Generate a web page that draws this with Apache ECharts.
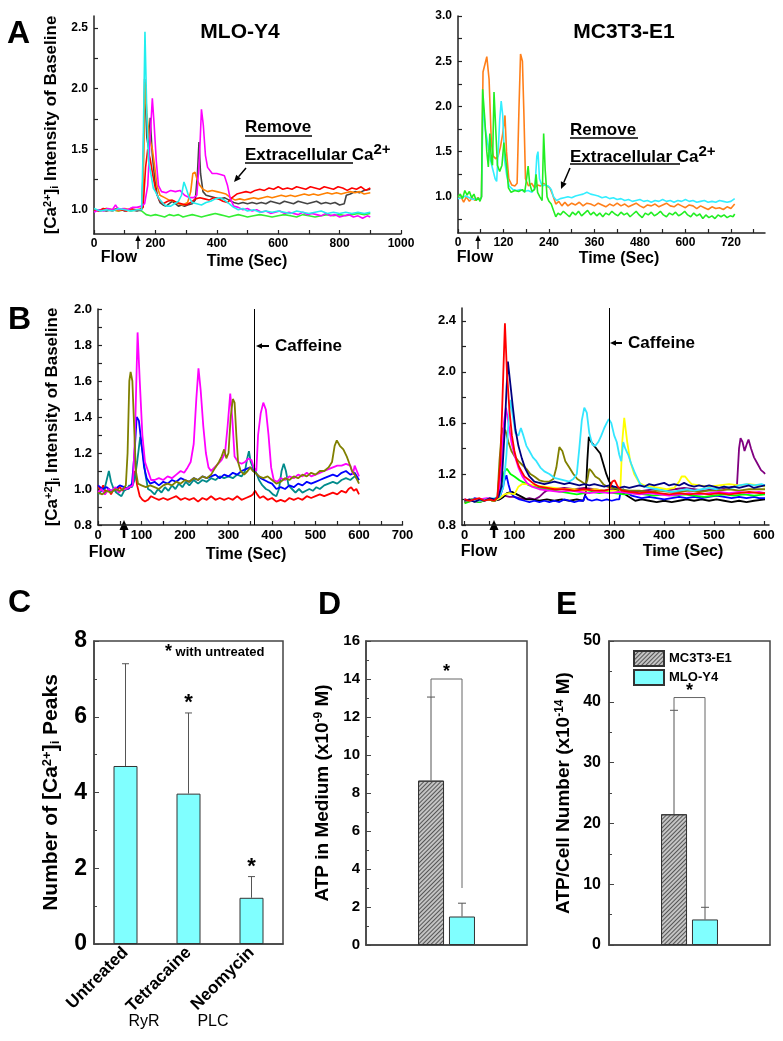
<!DOCTYPE html>
<html>
<head>
<meta charset="utf-8">
<title>Flow-induced Ca2+ responses and ATP release</title>
<script src="https://cdn.jsdelivr.net/npm/echarts@6.0.0/dist/echarts.min.js"></script>
<style>
  html, body { margin: 0; padding: 0; background: #fff; }
  #chart { width: 783px; height: 1041px; }
</style>
</head>
<body>
<div id="chart"></div>
<script>
// ---------- panel A, MLO-Y4 traces [time (s), ratio] ----------
const a1Red = [[0,1.0],[15,0.99],[30,1.01],[45,1.0],[60,0.99],[75,1.01],[90,1.0],[105,0.99],[120,1.01],[135,1.0],[150,1.0],[160,1.02],[168,1.35],[175,1.5],[183,1.42],[192,1.28],[202,1.15],[213,1.08],[225,1.05],[240,1.07],[255,1.08],[270,1.06],[285,1.05],[300,1.04],[315,1.06],[330,1.09],[345,1.1],[360,1.09],[375,1.08],[390,1.1],[405,1.09],[420,1.07],[435,1.06],[450,1.1],[465,1.13],[480,1.14],[495,1.15],[510,1.14],[525,1.16],[540,1.17],[555,1.16],[570,1.18],[585,1.17],[600,1.19],[615,1.17],[630,1.18],[645,1.17],[660,1.19],[675,1.18],[690,1.17],[705,1.19],[720,1.18],[735,1.17],[750,1.19],[765,1.18],[780,1.17],[795,1.19],[810,1.18],[825,1.16],[840,1.18],[855,1.17],[870,1.19],[885,1.16],[900,1.18]];
const a1Orange = [[0,1.0],[20,0.99],[40,1.01],[60,1.0],[80,0.99],[100,1.01],[120,1.0],[140,1.0],[155,1.01],[160,1.2],[166,2.05],[172,1.8],[180,1.6],[190,1.5],[198,1.35],[205,1.2],[215,1.12],[230,1.1],[245,1.08],[260,1.07],[275,1.05],[290,1.04],[305,1.06],[315,1.15],[322,1.3],[329,1.31],[336,1.25],[345,1.2],[355,1.17],[370,1.15],[385,1.16],[400,1.15],[415,1.14],[430,1.13],[445,1.1],[460,1.08],[475,1.09],[490,1.08],[505,1.09],[520,1.1],[535,1.09],[550,1.1],[565,1.11],[580,1.1],[595,1.11],[610,1.12],[625,1.11],[640,1.12],[655,1.11],[670,1.12],[685,1.13],[700,1.12],[715,1.13],[730,1.12],[745,1.13],[760,1.14],[775,1.13],[790,1.14],[805,1.13],[820,1.14],[835,1.15],[850,1.14],[865,1.15],[880,1.13],[900,1.14]];
const a1Gray = [[0,1.0],[20,1.0],[40,0.99],[60,1.0],[80,1.01],[100,0.99],[120,1.0],[140,0.99],[155,1.0],[160,1.3],[165,2.08],[172,1.6],[178,1.5],[183,1.76],[190,1.45],[198,1.25],[206,1.12],[215,1.06],[225,1.04],[235,1.03],[245,1.05],[255,1.07],[265,1.05],[275,1.03],[285,1.04],[295,1.03],[305,1.04],[320,1.05],[330,1.08],[337,1.3],[342,1.56],[347,1.3],[355,1.15],[365,1.12],[380,1.11],[395,1.1],[410,1.09],[425,1.1],[440,1.08],[455,1.06],[470,1.05],[485,1.06],[500,1.05],[515,1.06],[530,1.05],[545,1.06],[560,1.05],[575,1.07],[590,1.06],[605,1.05],[620,1.07],[635,1.06],[650,1.05],[665,1.07],[680,1.06],[695,1.05],[710,1.06],[725,1.07],[740,1.05],[755,1.06],[770,1.05],[785,1.06],[800,1.04],[815,1.05],[822,1.12],[835,1.13],[850,1.15],[865,1.14],[880,1.16],[900,1.17]];
const a1Magenta = [[0,0.98],[15,1.0],[30,0.99],[45,1.01],[60,1.0],[70,1.04],[80,1.0],[95,1.01],[110,1.0],[125,1.02],[140,1.02],[155,1.03],[165,1.05],[175,1.2],[183,1.6],[190,1.92],[196,1.7],[203,1.4],[210,1.2],[220,1.15],[235,1.14],[250,1.16],[265,1.15],[280,1.16],[295,1.12],[310,1.1],[325,1.1],[335,1.12],[343,1.4],[350,1.83],[356,1.7],[363,1.45],[370,1.35],[385,1.3],[400,1.3],[415,1.29],[425,1.28],[435,1.2],[443,1.1],[455,1.03],[470,1.02],[485,1.0],[500,1.01],[515,0.99],[530,1.0],[545,0.98],[560,0.99],[575,0.97],[590,0.98],[605,0.99],[620,0.97],[635,0.98],[650,0.97],[665,0.96],[680,0.98],[695,0.96],[710,0.97],[725,0.96],[740,0.95],[755,0.97],[770,0.95],[785,0.96],[800,0.94],[815,0.95],[830,0.96],[845,0.94],[860,0.95],[875,0.93],[890,0.95],[900,0.94]];
const a1Cyan = [[0,1.01],[20,0.99],[40,1.0],[60,0.99],[80,1.01],[100,1.0],[120,0.99],[140,1.0],[155,1.0],[160,1.5],[166,2.47],[172,1.8],[178,1.4],[185,1.3],[193,1.18],[200,1.15],[210,1.1],[222,1.06],[235,1.03],[250,1.03],[262,1.05],[275,1.07],[285,1.12],[293,1.23],[300,1.18],[310,1.1],[320,1.06],[335,1.05],[350,1.04],[365,1.06],[380,1.07],[395,1.09],[410,1.1],[425,1.08],[440,1.05],[455,1.02],[470,1.0],[485,1.01],[500,0.99],[520,1.0],[540,0.98],[560,0.99],[580,0.98],[600,0.99],[620,0.98],[640,0.97],[660,0.99],[680,0.98],[700,0.97],[720,0.98],[740,0.99],[760,0.97],[780,0.98],[800,0.97],[820,0.98],[840,0.97],[860,0.98],[880,0.97],[900,0.98]];
const a1Green = [[0,1.0],[20,0.99],[40,1.01],[60,1.0],[80,0.99],[100,1.0],[120,0.99],[140,1.0],[155,0.99],[170,0.96],[185,0.95],[200,0.96],[215,0.95],[230,0.94],[245,0.96],[260,0.95],[275,0.96],[290,0.94],[305,0.95],[320,0.96],[335,0.95],[350,0.94],[365,0.95],[380,0.96],[395,0.97],[410,0.96],[425,0.95],[440,0.94],[455,0.95],[470,0.96],[485,0.95],[500,0.94],[520,0.95],[540,0.96],[560,0.95],[580,0.94],[600,0.95],[620,0.96],[640,0.95],[660,0.94],[680,0.96],[700,0.95],[720,0.94],[740,0.95],[760,0.96],[780,0.95],[800,0.96],[820,0.95],[840,0.96],[860,0.97],[880,0.96],[900,0.97]];

// ---------- panel A, MC3T3-E1 traces ----------
const a2Orange = [[0,0.98],[8,1.0],[15,0.94],[22,1.0],[30,0.95],[38,0.99],[45,0.96],[52,0.99],[58,0.97],[62,1.0],[66,2.38],[70,2.4],[76,2.55],[82,2.3],[88,1.6],[93,1.45],[100,1.42],[106,1.45],[112,1.55],[118,1.7],[124,1.9],[128,1.5],[134,1.2],[142,1.13],[150,1.12],[156,1.15],[161,2.0],[165,2.58],[170,2.5],[174,1.9],[178,1.2],[186,1.12],[194,1.15],[202,1.1],[210,1.13],[218,1.12],[226,1.15],[234,1.12],[242,1.1],[250,1.02],[258,0.92],[266,0.95],[274,0.9],[282,0.94],[290,0.9],[300,0.93],[310,0.91],[320,0.94],[330,0.9],[340,0.93],[350,0.92],[360,0.9],[370,0.93],[380,0.91],[390,0.89],[400,0.92],[410,0.9],[420,0.93],[430,0.9],[440,0.92],[450,0.89],[460,0.91],[470,0.93],[480,0.9],[490,0.88],[500,0.91],[510,0.9],[520,0.92],[530,0.89],[540,0.91],[550,0.93],[560,0.9],[570,0.89],[580,0.92],[590,0.9],[600,0.88],[610,0.91],[620,0.9],[630,0.87],[640,0.9],[650,0.88],[660,0.86],[670,0.89],[680,0.87],[690,0.88],[700,0.86],[710,0.89],[720,0.87],[730,0.92]];
const a2Cyan = [[0,0.98],[10,0.99],[20,1.01],[30,0.99],[40,0.97],[50,0.98],[58,0.97],[62,1.0],[66,2.02],[72,1.75],[80,1.55],[86,1.4],[92,1.3],[98,1.2],[102,1.17],[106,1.5],[110,1.85],[114,2.06],[118,1.9],[123,1.4],[128,1.25],[135,1.12],[145,1.08],[155,1.07],[165,1.08],[175,1.06],[185,1.07],[195,1.05],[203,1.1],[208,1.45],[211,1.5],[215,1.2],[222,1.12],[230,1.13],[238,1.12],[246,1.08],[252,1.0],[260,0.96],[270,0.98],[280,0.99],[290,1.0],[300,0.99],[310,1.01],[320,1.02],[330,1.03],[340,1.05],[350,1.03],[360,1.02],[370,1.01],[380,0.99],[390,1.0],[400,0.98],[410,0.99],[420,0.97],[430,0.98],[440,0.96],[450,0.97],[460,0.95],[470,0.96],[480,0.97],[490,0.95],[500,0.96],[510,0.94],[520,0.96],[530,0.95],[540,0.97],[550,0.95],[560,0.96],[570,0.94],[580,0.96],[590,0.95],[600,0.97],[610,0.95],[620,0.96],[630,0.94],[640,0.95],[650,0.96],[660,0.94],[670,0.95],[680,0.94],[690,0.96],[700,0.95],[710,0.94],[720,0.95],[730,0.98]];
const a2Green = [[0,1.0],[6,1.03],[12,0.98],[18,1.07],[24,1.02],[30,1.06],[36,0.99],[42,1.03],[48,0.96],[54,0.99],[58,0.95],[62,1.0],[65,2.19],[70,1.9],[76,1.5],[80,1.33],[84,1.7],[88,1.4],[91,1.35],[95,2.16],[99,1.8],[104,1.35],[110,1.28],[116,1.35],[121,1.6],[125,1.6],[129,1.3],[133,1.1],[140,1.05],[150,1.07],[160,1.06],[170,1.08],[176,1.05],[181,1.2],[185,1.34],[189,1.15],[195,1.06],[202,1.08],[206,1.25],[210,1.05],[216,1.0],[222,0.96],[226,1.7],[230,1.3],[235,1.0],[240,0.95],[246,0.92],[252,0.85],[258,0.78],[264,0.82],[270,0.8],[278,0.84],[286,0.81],[294,0.78],[302,0.83],[310,0.8],[318,0.84],[326,0.79],[334,0.82],[342,0.85],[350,0.8],[358,0.83],[366,0.79],[374,0.82],[382,0.78],[390,0.82],[398,0.8],[406,0.84],[414,0.81],[422,0.79],[430,0.83],[438,0.8],[446,0.82],[454,0.78],[462,0.81],[470,0.84],[478,0.8],[486,0.77],[494,0.82],[502,0.8],[510,0.83],[518,0.79],[526,0.81],[534,0.84],[542,0.8],[550,0.78],[558,0.82],[566,0.8],[574,0.83],[582,0.79],[590,0.81],[598,0.84],[606,0.8],[614,0.78],[622,0.82],[630,0.79],[638,0.81],[646,0.76],[654,0.8],[662,0.77],[670,0.79],[678,0.76],[686,0.8],[694,0.78],[702,0.8],[710,0.77],[718,0.79],[726,0.78],[730,0.81]];

// ---------- panel B, MLO-Y4 with caffeine ----------
const b1Magenta = [[0,0.98],[8,1.0],[16,0.97],[24,1.0],[32,0.99],[40,1.01],[48,0.98],[56,1.0],[64,1.0],[72,1.01],[80,1.02],[85,1.3],[91,1.87],[96,1.6],[102,1.3],[108,1.15],[115,1.1],[122,1.05],[130,1.05],[140,1.06],[150,1.05],[160,1.07],[170,1.06],[180,1.08],[190,1.1],[198,1.09],[206,1.12],[213,1.15],[220,1.25],[226,1.5],[231,1.67],[236,1.55],[242,1.35],[248,1.2],[254,1.12],[260,1.1],[268,1.12],[276,1.14],[284,1.16],[292,1.2],[298,1.35],[304,1.53],[309,1.38],[314,1.18],[322,1.15],[330,1.14],[338,1.15],[346,1.17],[353,1.16],[358,1.12],[364,1.1],[368,1.3],[374,1.42],[380,1.48],[386,1.44],[392,1.3],[398,1.12],[404,1.05],[412,1.04],[420,1.06],[430,1.05],[440,1.07],[450,1.06],[460,1.08],[470,1.07],[480,1.09],[490,1.07],[500,1.08],[510,1.09],[520,1.1],[530,1.11],[540,1.12],[550,1.13],[560,1.13],[570,1.14],[580,1.13],[586,1.08],[590,1.13],[595,1.1],[600,1.07]];
const b1Olive = [[0,0.98],[10,0.97],[20,0.99],[30,0.98],[40,1.0],[50,0.99],[58,1.0],[64,1.02],[68,1.2],[72,1.6],[75,1.65],[79,1.6],[83,1.35],[87,1.1],[92,1.03],[100,1.02],[110,1.01],[120,1.02],[130,1.01],[140,1.0],[150,1.02],[160,1.03],[170,1.02],[180,1.04],[190,1.03],[200,1.05],[210,1.04],[220,1.06],[230,1.05],[240,1.07],[250,1.06],[260,1.08],[270,1.12],[278,1.15],[284,1.18],[290,1.22],[295,1.17],[300,1.2],[305,1.4],[310,1.5],[314,1.48],[318,1.3],[322,1.15],[328,1.1],[336,1.08],[344,1.1],[350,1.12],[356,1.1],[362,1.09],[370,1.07],[380,1.06],[390,1.07],[400,1.05],[410,1.03],[420,1.04],[430,1.06],[440,1.05],[450,1.07],[460,1.06],[470,1.08],[480,1.07],[490,1.09],[500,1.08],[510,1.1],[520,1.1],[530,1.12],[538,1.15],[544,1.24],[549,1.27],[556,1.24],[564,1.22],[572,1.18],[578,1.14],[584,1.1],[590,1.08],[596,1.05],[600,1.03]];
const b1Blue = [[0,1.02],[10,1.0],[20,1.01],[30,0.99],[40,1.0],[50,1.02],[60,1.01],[70,1.0],[78,1.03],[84,1.2],[89,1.4],[94,1.38],[100,1.25],[106,1.12],[112,1.06],[120,1.03],[130,1.04],[140,1.02],[150,1.04],[160,1.03],[170,1.05],[180,1.04],[190,1.06],[200,1.05],[210,1.04],[220,1.06],[230,1.05],[240,1.07],[250,1.06],[260,1.07],[270,1.08],[280,1.06],[290,1.08],[300,1.07],[310,1.09],[320,1.08],[330,1.1],[340,1.11],[350,1.12],[358,1.1],[366,1.08],[374,1.06],[382,1.05],[390,1.04],[400,1.03],[410,1.0],[420,1.01],[430,1.0],[440,1.02],[450,1.01],[460,1.03],[470,1.02],[480,1.04],[490,1.03],[500,1.04],[510,1.05],[520,1.06],[530,1.07],[540,1.08],[550,1.07],[560,1.09],[570,1.1],[580,1.08],[590,1.09],[600,1.05]];
const b1Teal = [[0,0.97],[8,0.99],[15,1.0],[20,1.05],[25,1.1],[30,1.04],[36,1.0],[42,0.98],[48,0.97],[54,0.96],[60,0.99],[66,1.0],[72,1.02],[78,1.01],[84,1.05],[90,1.15],[97,1.29],[103,1.2],[109,1.08],[115,1.0],[122,0.99],[130,0.97],[138,1.0],[146,0.98],[154,1.01],[162,0.99],[170,1.02],[178,1.0],[186,1.03],[194,1.01],[202,1.04],[210,1.02],[220,1.05],[230,1.03],[240,1.05],[250,1.04],[260,1.06],[270,1.05],[280,1.07],[290,1.06],[300,1.07],[310,1.06],[320,1.08],[330,1.07],[338,1.1],[343,1.17],[347,1.21],[351,1.15],[356,1.12],[362,1.1],[370,1.05],[378,1.02],[386,1.0],[394,0.99],[402,0.97],[410,0.96],[416,1.0],[422,1.1],[427,1.14],[432,1.1],[438,1.02],[446,1.0],[454,0.98],[462,1.0],[470,0.98],[478,0.99],[486,1.0],[494,0.99],[502,1.01],[510,1.0],[520,1.02],[530,1.03],[540,1.04],[550,1.03],[560,1.05],[570,1.06],[580,1.05],[590,1.07],[600,1.05]];
const b1Red = [[0,1.02],[6,0.99],[12,1.02],[18,0.98],[24,1.0],[30,0.97],[36,1.0],[42,0.99],[50,1.01],[58,0.99],[66,1.0],[74,1.01],[80,1.03],[85,1.1],[90,1.02],[96,0.96],[102,0.94],[108,0.93],[115,0.94],[122,0.96],[130,0.95],[140,0.94],[150,0.95],[160,0.94],[170,0.95],[180,0.96],[190,0.94],[200,0.95],[210,0.94],[220,0.95],[230,0.93],[240,0.95],[250,0.94],[260,0.96],[270,0.94],[280,0.95],[290,0.94],[300,0.95],[310,0.94],[320,0.96],[330,0.94],[340,0.95],[350,0.96],[356,0.97],[361,0.99],[366,0.97],[372,0.95],[380,0.96],[390,0.94],[400,0.95],[410,0.93],[420,0.94],[430,0.93],[440,0.95],[450,0.94],[460,0.95],[470,0.94],[480,0.96],[490,0.95],[500,0.96],[510,0.97],[520,0.96],[530,0.97],[540,0.98],[550,0.97],[560,0.99],[570,0.98],[576,1.0],[582,1.01],[588,0.99],[594,1.0],[600,0.97]];

// ---------- panel B, MC3T3-E1 with caffeine ----------
const b2Red = [[0,1.0],[10,0.99],[20,1.0],[30,1.01],[40,0.99],[50,1.0],[60,0.99],[66,1.02],[72,1.3],[77,1.9],[81,2.38],[85,2.0],[90,1.7],[95,1.5],[100,1.38],[105,1.3],[110,1.25],[120,1.18],[130,1.15],[140,1.12],[150,1.1],[165,1.09],[180,1.08],[200,1.08],[220,1.07],[240,1.08],[260,1.07],[280,1.07],[290,1.08],[296,1.14],[301,1.15],[307,1.1],[315,1.07],[330,1.06],[350,1.05],[370,1.06],[390,1.05],[410,1.04],[430,1.05],[450,1.04],[470,1.05],[490,1.04],[510,1.05],[530,1.04],[550,1.05],[570,1.06],[590,1.05],[602,1.05]];
const b2Navy = [[0,0.99],[10,1.0],[20,0.98],[30,1.0],[40,0.99],[50,1.01],[60,1.0],[68,1.02],[74,1.1],[80,1.5],[84,1.85],[87,2.08],[92,1.9],[97,1.72],[102,1.55],[108,1.42],[115,1.32],[122,1.24],[130,1.18],[140,1.14],[150,1.13],[160,1.12],[170,1.13],[180,1.14],[190,1.13],[200,1.12],[210,1.13],[220,1.12],[230,1.11],[240,1.12],[250,1.11],[260,1.12],[270,1.11],[280,1.1],[290,1.11],[300,1.1],[310,1.09],[320,1.1],[330,1.09],[340,1.1],[350,1.11],[360,1.1],[370,1.12],[380,1.11],[390,1.12],[400,1.13],[410,1.11],[420,1.12],[430,1.11],[440,1.13],[450,1.11],[460,1.1],[470,1.11],[480,1.1],[490,1.11],[500,1.1],[510,1.09],[520,1.1],[530,1.09],[540,1.1],[550,1.09],[560,1.1],[570,1.11],[580,1.09],[590,1.1],[602,1.11]];
const b2Magenta = [[0,1.0],[15,0.99],[30,1.0],[45,1.01],[60,1.0],[68,1.03],[74,1.25],[79,1.6],[83,1.72],[88,1.6],[94,1.45],[100,1.35],[108,1.25],[116,1.18],[125,1.13],[135,1.1],[150,1.08],[170,1.07],[190,1.06],[210,1.07],[230,1.06],[250,1.05],[270,1.06],[290,1.05],[310,1.06],[330,1.05],[350,1.04],[370,1.05],[390,1.04],[410,1.03],[430,1.04],[450,1.05],[470,1.04],[490,1.05],[510,1.06],[530,1.05],[550,1.06],[570,1.05],[590,1.06],[602,1.05]];
const b2Cyan = [[0,0.99],[15,1.0],[30,0.99],[45,1.0],[60,1.01],[70,1.02],[78,1.1],[84,1.35],[88,1.6],[92,1.78],[97,1.65],[102,1.52],[108,1.5],[113,1.56],[118,1.5],[124,1.42],[130,1.38],[137,1.33],[144,1.3],[152,1.25],[160,1.22],[170,1.2],[180,1.17],[190,1.16],[200,1.15],[210,1.14],[218,1.16],[225,1.2],[230,1.4],[235,1.62],[240,1.72],[245,1.68],[250,1.52],[256,1.43],[262,1.42],[268,1.45],[274,1.5],[280,1.56],[285,1.6],[289,1.63],[294,1.6],[300,1.5],[305,1.45],[310,1.35],[314,1.3],[318,1.45],[322,1.4],[328,1.35],[334,1.28],[340,1.22],[346,1.17],[352,1.12],[360,1.1],[370,1.09],[385,1.08],[400,1.07],[415,1.06],[430,1.07],[445,1.08],[460,1.07],[475,1.08],[490,1.09],[505,1.08],[520,1.1],[535,1.09],[550,1.11],[565,1.12],[580,1.11],[595,1.12],[602,1.11]];
const b2Olive = [[0,0.98],[15,1.0],[30,0.99],[45,1.0],[60,0.99],[66,1.02],[70,1.3],[74,1.5],[77,1.56],[82,1.54],[88,1.45],[94,1.38],[100,1.34],[108,1.3],[116,1.27],[124,1.24],[132,1.2],[140,1.18],[150,1.15],[160,1.14],[170,1.14],[178,1.16],[184,1.25],[190,1.41],[196,1.38],[202,1.3],[210,1.25],[218,1.2],[226,1.16],[234,1.14],[242,1.12],[246,1.15],[250,1.24],[255,1.22],[262,1.18],[270,1.16],[278,1.12],[286,1.1],[294,1.09],[310,1.08],[330,1.07],[350,1.07],[370,1.06],[390,1.07],[410,1.06],[430,1.06],[450,1.07],[470,1.06],[490,1.07],[510,1.07],[530,1.08],[550,1.07],[570,1.08],[590,1.08],[602,1.08]];
const b2Green = [[0,0.97],[15,0.99],[30,0.98],[45,1.0],[60,0.99],[68,1.02],[74,1.12],[80,1.22],[85,1.24],[92,1.2],[100,1.18],[110,1.15],[120,1.13],[130,1.11],[140,1.1],[150,1.09],[165,1.08],[180,1.07],[195,1.06],[210,1.05],[225,1.04],[240,1.05],[255,1.06],[270,1.05],[285,1.06],[300,1.05],[320,1.04],[340,1.05],[360,1.04],[380,1.03],[400,1.04],[420,1.03],[440,1.04],[460,1.03],[480,1.02],[500,1.03],[520,1.04],[540,1.03],[560,1.04],[580,1.03],[602,1.04]];
const b2Blue = [[0,1.0],[10,0.99],[20,1.01],[30,1.0],[40,0.99],[50,1.0],[60,0.99],[70,1.01],[76,1.08],[80,1.15],[84,1.19],[88,1.12],[93,1.05],[100,1.02],[110,1.0],[120,0.99],[130,0.98],[140,0.99],[150,0.98],[160,0.99],[170,0.98],[180,0.99],[190,0.98],[200,1.0],[210,0.99],[220,0.98],[230,0.99],[238,0.99],[242,1.03],[247,1.0],[255,0.99],[265,1.0],[275,0.99],[285,1.0],[295,0.99],[305,1.0],[310,1.0],[313,1.07],[318,1.08],[326,1.05],[335,1.03],[345,1.02],[355,1.01],[370,1.02],[385,1.01],[400,1.0],[415,1.01],[430,1.02],[445,1.01],[460,1.02],[475,1.01],[490,1.02],[505,1.03],[520,1.02],[535,1.01],[550,1.02],[565,1.01],[580,1.02],[590,1.01],[602,1.01]];
const b2Black = [[0,0.99],[15,1.0],[30,0.99],[45,1.0],[60,0.99],[70,1.0],[78,1.02],[85,1.05],[95,1.06],[105,1.04],[115,1.02],[125,1.0],[135,1.0],[150,0.99],[165,1.0],[180,0.99],[195,1.0],[210,0.99],[225,1.0],[238,0.99],[243,1.05],[246,1.3],[249,1.49],[254,1.45],[260,1.42],[266,1.39],[272,1.36],[278,1.28],[284,1.2],[290,1.14],[296,1.1],[302,1.08],[310,1.06],[318,1.05],[326,1.03],[334,1.01],[342,0.99],[355,1.0],[370,0.99],[385,0.98],[400,0.99],[415,0.98],[430,0.99],[445,1.0],[460,0.99],[475,1.0],[490,0.99],[505,1.0],[520,0.99],[535,0.98],[550,0.99],[565,0.98],[580,0.99],[602,1.0]];
const b2Yellow = [[0,0.99],[15,1.0],[30,0.99],[45,1.0],[60,0.99],[70,1.01],[80,1.04],[90,1.05],[100,1.04],[108,1.1],[115,1.12],[125,1.12],[140,1.11],[160,1.1],[180,1.09],[200,1.08],[220,1.08],[240,1.07],[260,1.08],[280,1.07],[300,1.07],[312,1.06],[316,1.45],[320,1.64],[326,1.45],[332,1.3],[340,1.2],[350,1.13],[360,1.11],[375,1.1],[390,1.09],[405,1.08],[420,1.09],[430,1.14],[435,1.18],[442,1.18],[448,1.15],[455,1.12],[470,1.11],[490,1.1],[510,1.11],[530,1.12],[550,1.11],[570,1.12],[590,1.11],[602,1.1]];
const b2Purple = [[0,0.98],[15,0.99],[30,0.98],[45,1.0],[60,0.99],[70,1.0],[80,1.03],[90,1.02],[100,1.02],[110,1.01],[120,1.0],[130,1.01],[140,1.0],[150,1.02],[158,1.05],[165,1.07],[180,1.08],[200,1.09],[220,1.08],[240,1.09],[260,1.08],[280,1.07],[300,1.08],[320,1.07],[340,1.06],[360,1.07],[380,1.08],[400,1.07],[420,1.08],[440,1.09],[460,1.08],[480,1.07],[500,1.08],[520,1.09],[540,1.1],[546,1.12],[550,1.4],[553,1.48],[557,1.45],[561,1.38],[566,1.44],[569,1.47],[574,1.4],[580,1.33],[587,1.28],[594,1.23],[600,1.21],[602,1.2]];
const b1CaffeineTime = 360;
const b2CaffeineTime = 290;

// ---------- tick labels ----------
const a1TimeLabels = [0, 200, 400, 600, 800, 1000];
const a1TimeTicks = [0, 100, 200, 300, 400, 500, 600, 700, 800, 900, 1000];
const a1RatioLabels = [1.0, 1.5, 2.0, 2.5];
const a1RatioTicks = [1.0, 1.25, 1.5, 1.75, 2.0, 2.25, 2.5];
const a2TimeLabels = [0, 120, 240, 360, 480, 600, 720];
const a2TimeTicks = [0, 60, 120, 180, 240, 300, 360, 420, 480, 540, 600, 660, 720, 780];
const a2RatioLabels = [1.0, 1.5, 2.0, 2.5, 3.0];
const a2RatioTicks = [0.75, 1.0, 1.25, 1.5, 1.75, 2.0, 2.25, 2.5, 2.75, 3.0];
const b1TimeLabels = [0, 100, 200, 300, 400, 500, 600, 700];
const b1TimeTicks = [0, 50, 100, 150, 200, 250, 300, 350, 400, 450, 500, 550, 600, 650, 700];
const b1RatioLabels = [0.8, 1.0, 1.2, 1.4, 1.6, 1.8, 2.0];
const b1RatioTicks = [0.8, 0.9, 1.0, 1.1, 1.2, 1.3, 1.4, 1.5, 1.6, 1.7, 1.8, 1.9, 2.0];
const b2TimeLabels = [0, 100, 200, 300, 400, 500, 600];
const b2TimeTicks = [0, 50, 100, 150, 200, 250, 300, 350, 400, 450, 500, 550, 600];
const b2RatioLabels = [0.8, 1.2, 1.6, 2.0, 2.4];
const b2RatioTicks = [0.8, 1.0, 1.2, 1.4, 1.6, 1.8, 2.0, 2.2, 2.4];

// ---------- panel C: number of peaks ----------
const peakCategories = ['Untreated', 'Tetracaine', 'Neomycin'];
const peakMeans = [4.7, 3.97, 1.22];
const peakUpper = [7.4, 6.1, 1.78];
const peakSignificant = [0, 1, 1];

// ---------- panels D, E: ATP release ----------
const cellLines = ['MC3T3-E1', 'MLO-Y4'];
const atpMediumMeans = [8.65, 1.5];
const atpMediumUpper = [13.05, 2.2];
const atpMediumBracket = [14, 13.05, 3.0];   // top, left end, right end
const atpCellMeans = [21.5, 4.2];
const atpCellUpper = [38.6, 6.2];
const atpCellBracket = [40.7, 38.6, 6.2];

const FONT = '"Liberation Sans", Arial, sans-serif';
const CYAN_BAR = '#80ffff';
const HATCH = {
  color: '#c4c4c4', borderColor: '#333', borderWidth: 1,
  decal: { symbol: 'rect', symbolSize: 1, dashArrayX: [1, 0], dashArrayY: [1, 2], rotation: -Math.PI / 4, color: '#555' }
};

const chart = echarts.init(document.getElementById('chart'), null, { renderer: 'canvas' });

function trace(gi, data, color, width) {
  return {
    type: 'line', xAxisIndex: gi, yAxisIndex: gi, data: data,
    showSymbol: false, symbol: 'none', silent: true,
    lineStyle: { color: color, width: width || 1.6 }, itemStyle: { color: color }
  };
}

function valueAxis(gi, min, max, labels, ticks, size, margin, fmt) {
  return {
    type: 'value', gridIndex: gi, min: min, max: max,
    axisLine: { show: true, onZero: false, lineStyle: { color: '#222', width: 1.5 } },
    axisTick: { show: true, inside: true, length: 4, customValues: ticks, lineStyle: { color: '#222', width: 1.2 } },
    axisLabel: {
      customValues: labels, margin: margin, color: '#000', fontFamily: FONT,
      fontWeight: 'bold', fontSize: size, formatter: fmt || (v => String(v))
    },
    splitLine: { show: false }
  };
}

function nameRich(size) {
  const small = Math.round(size * 0.62);
  return {
    b: { fontFamily: FONT, fontWeight: 'bold', fontSize: size, color: '#000', verticalAlign: 'bottom' },
    sup: { fontFamily: FONT, fontWeight: 'bold', fontSize: small, color: '#000', verticalAlign: 'top', padding: [0, 0, 7, 0] },
    sub: { fontFamily: FONT, fontWeight: 'bold', fontSize: small, color: '#000', verticalAlign: 'bottom' }
  };
}

const fmt1 = v => v.toFixed(1);

// error bars drawn from data through the axes; offsets shift to side-by-side bars
function errorBars(gi, data, capHalf, offsets) {
  return {
    type: 'custom', xAxisIndex: gi, yAxisIndex: gi, data: data, z: 5, silent: true,
    renderItem: function (params, api) {
      const dx = offsets ? offsets[params.dataIndex] : 0;
      const base = api.coord([api.value(0), api.value(1)]);
      const top = api.coord([api.value(0), api.value(2)]);
      const x = base[0] + dx;
      const kids = [
        { type: 'line', shape: { x1: x, y1: base[1], x2: x, y2: top[1] }, style: { stroke: '#555', lineWidth: 1 } },
        { type: 'line', shape: { x1: x - capHalf, y1: top[1], x2: x + capHalf, y2: top[1] }, style: { stroke: '#555', lineWidth: 1 } }
      ];
      if (api.value(3)) {
        kids.push({ type: 'text', style: { text: '*', x: x, y: top[1] - 10, align: 'center', verticalAlign: 'middle', font: 'bold 22px ' + FONT, fill: '#000' } });
      }
      return { type: 'group', children: kids };
    }
  };
}

function bracket(gi, vals, halfGap, starSize) {
  return {
    type: 'custom', xAxisIndex: gi, yAxisIndex: gi, data: [[0, vals[0], vals[1], vals[2]]], z: 5, silent: true,
    renderItem: function (params, api) {
      const t = api.coord([0, api.value(1)]);
      const l = api.coord([0, api.value(2)]);
      const r = api.coord([0, api.value(3)]);
      const xl = t[0] - halfGap, xr = t[0] + halfGap;
      return {
        type: 'group', children: [
          { type: 'polyline', shape: { points: [[xl, l[1]], [xl, t[1]], [xr, t[1]], [xr, r[1]]] }, style: { stroke: '#666', lineWidth: 1, fill: null } },
          { type: 'text', style: { text: '*', x: t[0], y: t[1] - 7, align: 'center', verticalAlign: 'middle', font: 'bold ' + starSize + 'px ' + FONT, fill: '#000' } }
        ]
      };
    }
  };
}

function gText(x, y, text, size, align, weight, rich) {
  const s = { text: text, x: x, y: y, font: (weight || 'bold') + ' ' + size + 'px ' + FONT, fill: '#000', align: align || 'left', verticalAlign: 'middle' };
  if (rich) s.rich = rich;
  return { type: 'text', style: s, silent: true };
}
function gLine(x1, y1, x2, y2, w) {
  return { type: 'line', shape: { x1: x1, y1: y1, x2: x2, y2: y2 }, style: { stroke: '#000', lineWidth: w || 1.5 }, silent: true };
}
function gArrow(x1, y1, x2, y2, head, w) {
  const a = Math.atan2(y2 - y1, x2 - x1);
  const hx = x2 - head * Math.cos(a), hy = y2 - head * Math.sin(a);
  const px = Math.sin(a) * head * 0.45, py = -Math.cos(a) * head * 0.45;
  return [
    gLine(x1, y1, hx, hy, w),
    { type: 'polygon', shape: { points: [[x2, y2], [hx + px, hy + py], [hx - px, hy - py]] }, style: { fill: '#000' }, silent: true }
  ];
}
const caRich = {
  a: { font: 'bold 17px ' + FONT, fill: '#000', verticalAlign: 'bottom' },
  s: { font: 'bold 15px ' + FONT, fill: '#000', verticalAlign: 'top', padding: [0, 0, 7, 0] }
};

const graphics = [].concat(
  [
    gText(7, 34, 'A', 32), gText(8, 320, 'B', 32), gText(8, 603, 'C', 32),
    gText(318, 605, 'D', 32), gText(556, 605, 'E', 32),
    gText(240, 32, 'MLO-Y4', 21, 'center'), gText(624, 32, 'MC3T3-E1', 21, 'center'),
    // A annotations
    gText(245, 127, 'Remove', 17), gLine(245, 136, 312, 136),
    gText(245, 153, '{a|Extracellular Ca}{s|2+}', 17, 'left', 'bold', caRich), gLine(245, 163, 353, 163),
    gText(570, 130, 'Remove', 17), gLine(570, 138, 638, 138),
    gText(570, 155, '{a|Extracellular Ca}{s|2+}', 17, 'left', 'bold', caRich), gLine(570, 164, 680, 164),
    gText(119, 258, 'Flow', 16, 'center'), gText(475, 258, 'Flow', 16, 'center'),
    gText(247, 262, 'Time (Sec)', 16, 'center'), gText(619, 259, 'Time (Sec)', 16, 'center'),
    // B annotations
    gText(107, 553, 'Flow', 16, 'center'), gText(479, 552, 'Flow', 16, 'center'),
    gText(246, 555, 'Time (Sec)', 16, 'center'), gText(683, 552, 'Time (Sec)', 16, 'center'),
    gText(275, 346, 'Caffeine', 17), gText(628, 343, 'Caffeine', 17),
    // C annotations
    gText(165, 652, '{s|*} {t|with untreated}', 13, 'left', 'bold', {
      s: { font: 'bold 18px ' + FONT, fill: '#000' }, t: { font: 'bold 13px ' + FONT, fill: '#000' }
    }),
    gText(144, 1022, 'RyR', 16, 'center', 'normal'), gText(213, 1022, 'PLC', 16, 'center', 'normal')
  ],
  gArrow(246, 168, 234, 182, 7, 1.5),
  gArrow(570, 168, 561, 189, 7, 1.5),
  gArrow(138, 249, 138, 235, 6, 1.3),
  gArrow(478, 249, 478, 235, 6, 1.3),
  gArrow(124, 538, 124, 520, 10, 2.5),
  gArrow(494, 538, 494, 520, 10, 2.5),
  gArrow(269, 346, 256, 346, 6, 2),
  gArrow(622, 343, 610, 343, 6, 2)
);

const catAxisBase = {
  type: 'category',
  axisLine: { show: true, lineStyle: { color: '#444', width: 1.5 } },
  axisTick: { show: false },
  splitLine: { show: false }
};
const boxGrid = { show: true, borderColor: '#444', borderWidth: 1.5, backgroundColor: 'transparent' };

const option = {
  animation: false,
  backgroundColor: '#fff',
  textStyle: { fontFamily: FONT },
  grid: [
    { left: 94, top: 16, width: 307, height: 218 },
    { left: 458, top: 16, width: 307, height: 217 },
    { left: 98, top: 309, width: 304.5, height: 216 },
    { left: 462, top: 308, width: 307, height: 217 },
    Object.assign({ left: 94, top: 641, width: 189, height: 303 }, boxGrid),
    Object.assign({ left: 366, top: 641, width: 161, height: 304 }, boxGrid),
    Object.assign({ left: 609, top: 641, width: 161, height: 304 }, boxGrid)
  ],
  xAxis: [
    valueAxis(0, 0, 1000, a1TimeLabels, a1TimeTicks, 12, 4),
    valueAxis(1, 0, 810, a2TimeLabels, a2TimeTicks, 12, 4),
    valueAxis(2, 0, 700, b1TimeLabels, b1TimeTicks, 13, 4),
    valueAxis(3, -5, 610, b2TimeLabels, b2TimeTicks, 13, 4),
    Object.assign({}, catAxisBase, {
      gridIndex: 4, data: peakCategories,
      axisLabel: { rotate: 45, margin: 6, color: '#000', fontFamily: FONT, fontWeight: 'bold', fontSize: 17, interval: 0 }
    }),
    Object.assign({}, catAxisBase, { gridIndex: 5, data: ['ATP'], axisLabel: { show: false } }),
    Object.assign({}, catAxisBase, { gridIndex: 6, data: ['ATP'], axisLabel: { show: false } })
  ],
  yAxis: [
    Object.assign(valueAxis(0, 0.8, 2.6, a1RatioLabels, a1RatioTicks, 12, 6, fmt1), {
      name: '{b|[Ca}{sup|2+}{b|]}{sub|i}{b| Intensity of Baseline}', nameLocation: 'middle', nameGap: 34,
      nameTextStyle: { rich: nameRich(17) }
    }),
    valueAxis(1, 0.6, 3.0, a2RatioLabels, a2RatioTicks, 12, 6, fmt1),
    Object.assign(valueAxis(2, 0.8, 2.0, b1RatioLabels, b1RatioTicks, 13, 6, fmt1), {
      name: '{b|[Ca}{sup|+2}{b|]}{sub|i}{b| Intensity of Baseline}', nameLocation: 'middle', nameGap: 37,
      nameTextStyle: { rich: nameRich(17) }
    }),
    valueAxis(3, 0.8, 2.5, b2RatioLabels, b2RatioTicks, 13, 6, fmt1),
    {
      type: 'value', gridIndex: 4, min: 0, max: 8, interval: 2,
      axisLine: { show: true, lineStyle: { color: '#444', width: 1.5 } },
      axisTick: { show: true, inside: true, length: 5, lineStyle: { color: '#444' } },
      minorTick: { show: true, splitNumber: 2, length: 3, lineStyle: { color: '#444' } },
      axisLabel: { margin: 7, color: '#000', fontFamily: FONT, fontWeight: 'bold', fontSize: 23 },
      splitLine: { show: false },
      name: '{b|Number of [Ca}{sup|2+}{b|]}{sub|i}{b| Peaks}', nameLocation: 'middle', nameGap: 32,
      nameTextStyle: { rich: nameRich(21) }
    },
    {
      type: 'value', gridIndex: 5, min: 0, max: 16, interval: 2,
      axisLine: { show: true, lineStyle: { color: '#444', width: 1.5 } },
      axisTick: { show: true, inside: true, length: 5, lineStyle: { color: '#444' } },
      minorTick: { show: true, splitNumber: 2, length: 3, lineStyle: { color: '#444' } },
      axisLabel: { margin: 6, color: '#000', fontFamily: FONT, fontWeight: 'bold', fontSize: 15 },
      splitLine: { show: false },
      name: '{b|ATP in Medium (x10}{sup|-9}{b| M)}', nameLocation: 'middle', nameGap: 34,
      nameTextStyle: { rich: nameRich(19) }
    },
    {
      type: 'value', gridIndex: 6, min: 0, max: 50, interval: 10,
      axisLine: { show: true, lineStyle: { color: '#444', width: 1.5 } },
      axisTick: { show: true, inside: true, length: 5, lineStyle: { color: '#444' } },
      minorTick: { show: true, splitNumber: 2, length: 3, lineStyle: { color: '#444' } },
      axisLabel: { margin: 8, color: '#000', fontFamily: FONT, fontWeight: 'bold', fontSize: 16 },
      splitLine: { show: false },
      name: '{b|ATP/Cell Number (x10}{sup|-14}{b| M)}', nameLocation: 'middle', nameGap: 36,
      nameTextStyle: { rich: nameRich(19) }
    }
  ],
  legend: {
    left: 628, top: 645, orient: 'vertical', itemWidth: 30, itemHeight: 15, itemGap: 2,
    icon: 'rect', selectedMode: false, data: cellLines,
    textStyle: { fontFamily: FONT, fontWeight: 'bold', fontSize: 13, color: '#000' }
  },
  graphic: graphics,
  series: [
    trace(0, a1Green, '#33ee33'), trace(0, a1Gray, '#444444'), trace(0, a1Orange, '#ff8000'),
    trace(0, a1Red, '#ff0000'), trace(0, a1Magenta, '#ff00ff'), trace(0, a1Cyan, '#22eeee'),

    trace(1, a2Orange, '#ff7f1a'), trace(1, a2Cyan, '#33eeff'), trace(1, a2Green, '#22ee22'),

    Object.assign(trace(2, b1Red, '#ff0000', 1.8), {
      markLine: {
        symbol: 'none', silent: true, label: { show: false },
        lineStyle: { color: '#000', width: 1, type: 'solid' }, data: [{ xAxis: b1CaffeineTime }]
      }
    }),
    trace(2, b1Teal, '#008b8b', 1.8), trace(2, b1Blue, '#0000ff', 1.8),
    trace(2, b1Magenta, '#ff00ff', 1.8), trace(2, b1Olive, '#808000', 1.8),

    Object.assign(trace(3, b2Purple, '#800080', 1.8), {
      markLine: {
        symbol: 'none', silent: true, label: { show: false },
        lineStyle: { color: '#000', width: 1, type: 'solid' }, data: [{ xAxis: b2CaffeineTime }]
      }
    }),
    trace(3, b2Black, '#000000', 1.8), trace(3, b2Blue, '#0000ff', 1.8), trace(3, b2Green, '#00ff00', 1.8),
    trace(3, b2Yellow, '#ffff00', 1.8), trace(3, b2Olive, '#808000', 1.8), trace(3, b2Magenta, '#ff00ff', 1.8),
    trace(3, b2Cyan, '#33e6ff', 1.8), trace(3, b2Navy, '#000080', 1.8), trace(3, b2Red, '#ff0000', 1.8),

    {
      type: 'bar', xAxisIndex: 4, yAxisIndex: 4, data: peakMeans, barWidth: 24, silent: true,
      itemStyle: { color: CYAN_BAR, borderColor: '#333', borderWidth: 1 }
    },
    errorBars(4, peakMeans.map((m, i) => [i, m, peakUpper[i], peakSignificant[i]]), 3.5),

    { type: 'bar', name: cellLines[0], xAxisIndex: 5, yAxisIndex: 5, data: [atpMediumMeans[0]], barWidth: 26, barGap: '19%', silent: true, itemStyle: HATCH },
    { type: 'bar', name: cellLines[1], xAxisIndex: 5, yAxisIndex: 5, data: [atpMediumMeans[1]], barWidth: 26, barGap: '19%', silent: true, itemStyle: { color: CYAN_BAR, borderColor: '#333', borderWidth: 1 } },
    errorBars(5, atpMediumMeans.map((m, i) => [0, m, atpMediumUpper[i], 0]), 4, [-15.5, 15.5]),
    bracket(5, atpMediumBracket, 15.5, 18),

    { type: 'bar', name: cellLines[0], xAxisIndex: 6, yAxisIndex: 6, data: [atpCellMeans[0]], barWidth: 26, barGap: '19%', silent: true, itemStyle: HATCH },
    { type: 'bar', name: cellLines[1], xAxisIndex: 6, yAxisIndex: 6, data: [atpCellMeans[1]], barWidth: 26, barGap: '19%', silent: true, itemStyle: { color: CYAN_BAR, borderColor: '#333', borderWidth: 1 } },
    errorBars(6, atpCellMeans.map((m, i) => [0, m, atpCellUpper[i], 0]), 4, [-15.5, 15.5]),
    bracket(6, atpCellBracket, 15.5, 18)
  ]
};

chart.setOption(option);
</script>
</body>
</html>
